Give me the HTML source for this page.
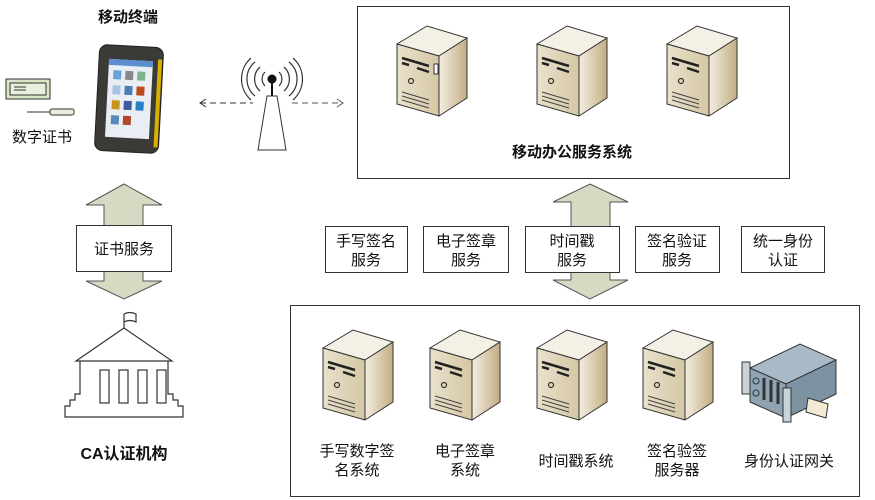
<!DOCTYPE html>
<html><head><meta charset="utf-8"><style>
html,body{margin:0;padding:0;background:#fff;}
svg{display:block;font-family:"Liberation Sans","Noto Sans CJK SC",sans-serif;}
</style></head><body>
<svg width="875" height="500" viewBox="0 0 875 500" xmlns="http://www.w3.org/2000/svg">
<defs>
<linearGradient id="gf" x1="0" y1="0" x2="1" y2="0"><stop offset="0" stop-color="#e9e1cc"/><stop offset="1" stop-color="#d5c7a4"/></linearGradient>
<linearGradient id="gs" x1="0" y1="0" x2="1" y2="0"><stop offset="0" stop-color="#f3eee2"/><stop offset="1" stop-color="#c2ad82"/></linearGradient>
<g id="srv">
<polygon points="0,18 30,0 70,12 42,30" fill="#f4f0e6" stroke="#333" stroke-width="1"/>
<polygon points="0,18 42,30 42,90 0,78" fill="url(#gf)" stroke="#333" stroke-width="1"/>
<polygon points="42,30 70,12 70,72 42,90" fill="url(#gs)" stroke="#333" stroke-width="1"/>
<path d="M5,32 L32,40 M5,37 L12,39 M20,42 L32,46" stroke="#222" stroke-width="2.5"/>
<circle cx="14" cy="55" r="2.5" fill="none" stroke="#333" stroke-width="1.2"/>
<path d="M5,66 L32,74 M5,70 L32,78 M5,74 L32,82" stroke="#444" stroke-width="1"/>
</g>
</defs>

<!-- top system box -->
<rect x="357.5" y="6.5" width="432" height="172" fill="#fff" stroke="#333"/>
<use href="#srv" x="397" y="26"/>
<rect x="434" y="64" width="4" height="10" fill="#fff" stroke="#333"/>
<use href="#srv" x="537" y="26"/>
<use href="#srv" x="667" y="26"/>
<text x="572" y="157" font-size="15" font-weight="bold" text-anchor="middle" fill="#111">移动办公服务系统</text>

<!-- middle double arrow -->
<polygon points="590,184 628,202 610,202 610,280 628,280 590,299 553,280 571,280 571,202 553,202" fill="#d8d9c3" stroke="#555"/>
<!-- left double arrow -->
<polygon points="124,184 162,205 143,205 143,281 162,281 124,299 86,281 104,281 104,205 86,205" fill="#d8d9c3" stroke="#555"/>

<!-- service boxes -->
<g fill="#fff" stroke="#333">
<rect x="325.5" y="226.5" width="82" height="46"/>
<rect x="423.5" y="226.5" width="85" height="46"/>
<rect x="525.5" y="226.5" width="94" height="46"/>
<rect x="635.5" y="226.5" width="84" height="46"/>
<rect x="741.5" y="226.5" width="83" height="46"/>
<rect x="76.5" y="225.5" width="95" height="46"/>
</g>
<g font-size="15" text-anchor="middle" fill="#111">
<text x="366" y="246">手写签名</text><text x="366" y="265">服务</text>
<text x="466" y="246">电子签章</text><text x="466" y="265">服务</text>
<text x="572" y="246">时间戳</text><text x="572" y="265">服务</text>
<text x="677" y="246">签名验证</text><text x="677" y="265">服务</text>
<text x="783" y="246">统一身份</text><text x="783" y="265">认证</text>
<text x="124" y="254">证书服务</text>
</g>

<!-- bottom box -->
<rect x="290.5" y="305.5" width="569" height="191" fill="#fff" stroke="#333"/>
<use href="#srv" x="323" y="330"/>
<use href="#srv" x="430" y="330"/>
<use href="#srv" x="537" y="330"/>
<use href="#srv" x="643" y="330"/>
<!-- gateway -->
<g>
<polygon points="750,368 800,344 836,360 786,384" fill="#a9bac6" stroke="#333"/>
<polygon points="750,368 786,384 786,418 750,402" fill="#8fa3b2" stroke="#333"/>
<polygon points="786,384 836,360 836,394 786,418" fill="#7d93a4" stroke="#333"/>
<rect x="742" y="362" width="8" height="32" fill="#c9d3da" stroke="#333"/>
<rect x="783" y="388" width="8" height="34" fill="#c9d3da" stroke="#333"/>
<circle cx="756" cy="381" r="3" fill="#8ab" stroke="#333"/><circle cx="756" cy="393" r="3" fill="#8ab" stroke="#333"/>
<path d="M764,378 v22 M771,380 v22 M778,382 v22" stroke="#333" stroke-width="3"/>
<polygon points="808,398 828,404 826,418 806,412" fill="#f2ead2" stroke="#333"/>
</g>
<g font-size="15" text-anchor="middle" fill="#111">
<text x="357" y="456">手写数字签</text><text x="357" y="475">名系统</text>
<text x="465" y="456">电子签章</text><text x="465" y="475">系统</text>
<text x="576" y="466">时间戳系统</text>
<text x="677" y="456">签名验签</text><text x="677" y="475">服务器</text>
<text x="789" y="466">身份认证网关</text>
</g>

<!-- phone -->
<text x="128" y="22" font-size="15" font-weight="bold" text-anchor="middle" fill="#111">移动终端</text>
<g>
<rect x="97" y="46" width="64" height="106" rx="8" fill="#3a3a36" stroke="#222" transform="rotate(3 129 99)"/>
<rect x="156" y="58" width="4" height="88" fill="#d9b000" transform="rotate(3 129 99)"/>
<rect x="107" y="60" width="44" height="78" fill="#e9eef4" transform="rotate(3 129 99)"/>
<rect x="107" y="60" width="44" height="6" fill="#5b8fd0" transform="rotate(3 129 99)"/>
<g transform="rotate(3 129 99)">
<rect x="112" y="71" width="8" height="9" fill="#6aa0d8"/><rect x="124" y="71" width="8" height="9" fill="#888"/><rect x="136" y="71" width="8" height="9" fill="#7bb38a"/>
<rect x="112" y="86" width="8" height="9" fill="#a8c4e0"/><rect x="124" y="86" width="8" height="9" fill="#4a7fb5"/><rect x="136" y="86" width="8" height="9" fill="#c04a20"/>
<rect x="112" y="101" width="8" height="9" fill="#c8961e"/><rect x="124" y="101" width="8" height="9" fill="#3b5d9c"/><rect x="136" y="101" width="8" height="9" fill="#2a7fc5"/>
<rect x="112" y="116" width="8" height="9" fill="#5a8ab8"/><rect x="124" y="116" width="8" height="9" fill="#b0462a"/>
</g>
</g>

<!-- certificate -->
<rect x="6" y="79" width="44" height="20" fill="#d9e6c6" stroke="#333"/>
<rect x="10" y="83" width="36" height="12" fill="#e8f0dc" stroke="#333"/>
<path d="M14,87 h12 M14,90 h12" stroke="#333"/>
<line x1="27" y1="112" x2="50" y2="112" stroke="#333"/>
<rect x="50" y="109" width="24" height="6" rx="2" fill="#e8f0dc" stroke="#333"/>
<text x="42" y="142" font-size="15" text-anchor="middle" fill="#111">数字证书</text>

<!-- tower -->
<line x1="200" y1="103" x2="253" y2="103" stroke="#333" stroke-dasharray="6,4"/>
<polyline points="206,99 200,103 206,107" fill="none" stroke="#333"/>
<line x1="292" y1="103" x2="343" y2="103" stroke="#555" stroke-dasharray="6,4"/>
<polyline points="337,99 343,103 337,107" fill="none" stroke="#555"/>
<polygon points="267,96 277,96 286,150 258,150" fill="#fff" stroke="#333"/>
<line x1="272" y1="80" x2="272" y2="96" stroke="#111" stroke-width="2"/>
<circle cx="272" cy="79" r="4.5" fill="#111"/>
<g fill="none" stroke="#333" stroke-width="1.2">
<path d="M265,72 a10,10 0 0 0 0,14 M279,72 a10,10 0 0 1 0,14"/>
<path d="M260,67 a16,16 0 0 0 0,24 M284,67 a16,16 0 0 1 0,24"/>
<path d="M255,62 a22,22 0 0 0 0,34 M289,62 a22,22 0 0 1 0,34"/>
<path d="M251,58 a28,28 0 0 0 0,42 M293,58 a28,28 0 0 1 0,42"/>
</g>

<!-- CA building -->
<g fill="none" stroke="#333" stroke-width="1.2">
<line x1="124" y1="328" x2="124" y2="314"/>
<path d="M124,314 q6,-3 12,0 v8 q-6,-3 -12,0"/>
<path d="M76,361 L124,328 L172,361 Z"/>
<path d="M80,361 v33 h-5 v6 h-5 v6 h-5 v11 h118 v-11 h-5 v-6 h-5 v-6 h-5 v-33"/>
<rect x="100" y="370" width="9" height="33"/><rect x="119" y="370" width="9" height="33"/><rect x="138" y="370" width="9" height="33"/><rect x="157" y="370" width="9" height="33"/>
</g>
<text x="124" y="459" font-size="16" font-weight="bold" text-anchor="middle" fill="#111">CA认证机构</text>
</svg>
</body></html>
